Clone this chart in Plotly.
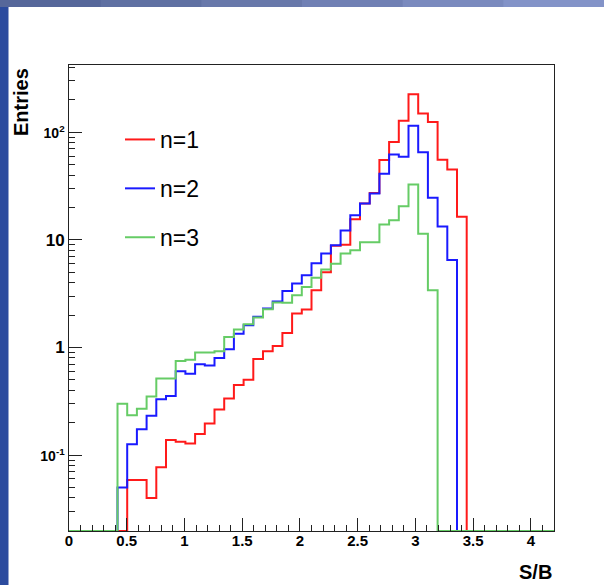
import numpy as np
import plotly.graph_objects as go

# ---------------- data ----------------
x_lo, x_hi, n_bins = 0.0, 4.2, 50
series_names = ["n=1", "n=2", "n=3"]
series_colors = ["#ff1a1a", "#1a1aff", "#66cc66"]

n1_counts = [0, 0, 0, 0, 0, 0, 0.0586, 0.0586, 0.040, 0.077,
             0.138, 0.133, 0.128, 0.157, 0.197, 0.265, 0.335, 0.447, 0.50, 0.78,
             0.92, 1.03, 1.36, 2.07, 2.25, 3.4, 5.0, 8.8, 9.0, 15.5,
             21.7, 27.2, 55, 81, 128, 225, 149, 124, 55.5, 45,
             16.4, 0, 0, 0, 0, 0, 0, 0, 0, 0]
n2_counts = [0, 0, 0, 0, 0, 0.050, 0.126, 0.174, 0.232, 0.33,
             0.355, 0.60, 0.57, 0.70, 0.68, 0.80, 0.96, 1.34, 1.61, 1.93,
             2.3, 2.68, 3.35, 3.92, 4.68, 6.05, 7.45, 8.9, 12.2, 16.9,
             21.7, 27, 41, 62, 59, 115, 65, 24.6, 13.3, 6.5,
             0, 0, 0, 0, 0, 0, 0, 0, 0, 0]
n3_counts = [0, 0, 0, 0, 0, 0.30, 0.235, 0.27, 0.35, 0.515,
             0.515, 0.75, 0.77, 0.90, 0.90, 0.92, 1.25, 1.47, 1.64, 1.9,
             2.27, 2.62, 2.6, 3.05, 3.65, 4.45, 5.29, 6.0, 7.45, 7.98,
             9.5, 9.5, 13.9, 15.2, 20.5, 32.7, 11.4, 3.4, 0, 0,
             0, 0, 0, 0, 0, 0, 0, 0, 0, 0]

x_tickvals = [0, 0.5, 1, 1.5, 2, 2.5, 3, 3.5, 4]
x_ticktext = ["0", "0.5", "1", "1.5", "2", "2.5", "3", "3.5", "4"]
y_tickvals = [0.1, 1, 10, 100]
y_ticktext = ["<span style='font-size:14px'>10<sup>-1</sup></span>", "1", "10",
              "<span style='font-size:14px'>10<sup>2</sup></span>"]

# ---------------- layout constants ----------------
W, H = 604, 585
ML, MR, MT, MB = 69, 50, 65, 54
y_log_range = [-1.705, 2.624]
floor_val = 10 ** y_log_range[0]

edges = np.linspace(x_lo, x_hi, n_bins + 1)

fig = go.Figure()
for name, col, vals in zip(series_names, series_colors, [n1_counts, n2_counts, n3_counts]):
    yv = [v if v > 0 else floor_val for v in vals]
    yv = yv + [yv[-1]]
    fig.add_trace(go.Scatter(
        x=edges, y=yv, mode="lines", name=name, legendgroup=name,
        line=dict(color=col, width=2, shape="hv"),
        hoverinfo="skip"))

minor_x = [round(v, 2) for v in np.arange(0, 4.21, 0.1)]
minor_y = []
for dec in [0.01, 0.1, 1, 10, 100]:
    for k in range(2, 10):
        minor_y.append(k * dec)

font_b = dict(family="Liberation Sans, Arial, sans-serif", color="black", weight="bold")

fig.update_xaxes(
    range=[x_lo, x_hi], showgrid=False, zeroline=False,
    showline=True, mirror=True, linecolor="#222", linewidth=1,
    ticks="inside", ticklen=13, tickwidth=1, tickcolor="#222",
    tickmode="array", tickvals=x_tickvals, ticktext=x_ticktext,
    tickfont=dict(size=15, **font_b), ticklabelstandoff=-4,
    minor=dict(ticks="inside", ticklen=6, tickwidth=1, tickcolor="#222",
               tickmode="array", tickvals=minor_x, showgrid=False),
)
fig.update_yaxes(
    type="log", range=y_log_range, showgrid=False, zeroline=False,
    showline=True, mirror=True, linecolor="#222", linewidth=1,
    ticks="inside", ticklen=13, tickwidth=1, tickcolor="#222",
    tickmode="array", tickvals=y_tickvals, ticktext=y_ticktext,
    tickfont=dict(size=17, **font_b),
    minor=dict(ticks="inside", ticklen=6, tickwidth=1, tickcolor="#222",
               tickmode="array", tickvals=minor_y, showgrid=False),
)

pw = W - ML - MR
ph = H - MT - MB
def px_x(p):
    return (p - ML) / pw
def px_y(p):
    return 1 - (p - MT) / ph

shapes = []
# slide background strips (left and top)
shapes.append(dict(type="rect", xref="paper", yref="paper", layer="below",
                   x0=px_x(0), x1=px_x(8.5), y0=px_y(H), y1=px_y(0),
                   fillcolor="#2c4b9e", line=dict(width=0)))
top_cols = ["#56679a", "#5f70a2", "#6878aa", "#7080b4", "#7a8abe", "#8393c8"]
seg = W / len(top_cols)
for i, c in enumerate(top_cols):
    shapes.append(dict(type="rect", xref="paper", yref="paper", layer="below",
                       x0=px_x(i * seg), x1=px_x((i + 1) * seg + 1), y0=px_y(7), y1=px_y(0),
                       fillcolor=c, line=dict(width=0)))

annotations = [
    dict(text="Entries", xref="paper", yref="paper", x=px_x(21), y=px_y(66),
         xanchor="center", yanchor="top", textangle=-90, showarrow=False,
         font=dict(size=20, **font_b)),
    dict(text="S/B", xref="paper", yref="paper", x=px_x(554), y=px_y(572),
         xanchor="right", yanchor="middle", showarrow=False,
         font=dict(size=20, **font_b)),
]

fig.update_layout(
    width=W, height=H,
    margin=dict(l=ML, r=MR, t=MT, b=MB, pad=0),
    paper_bgcolor="white", plot_bgcolor="white",
    showlegend=True,
    legend=dict(x=px_x(120), y=px_y(118), xanchor="left", yanchor="top",
                bgcolor="rgba(0,0,0,0)", borderwidth=0,
                font=dict(family="Liberation Sans, Arial, sans-serif", size=23, color="black"),
                tracegroupgap=16, itemwidth=30),
    shapes=shapes, annotations=annotations,
)

fig.write_html("out.html", config={"displayModeBar": False},
               post_script="document.body.style.margin='0';document.body.style.overflow='hidden';")
